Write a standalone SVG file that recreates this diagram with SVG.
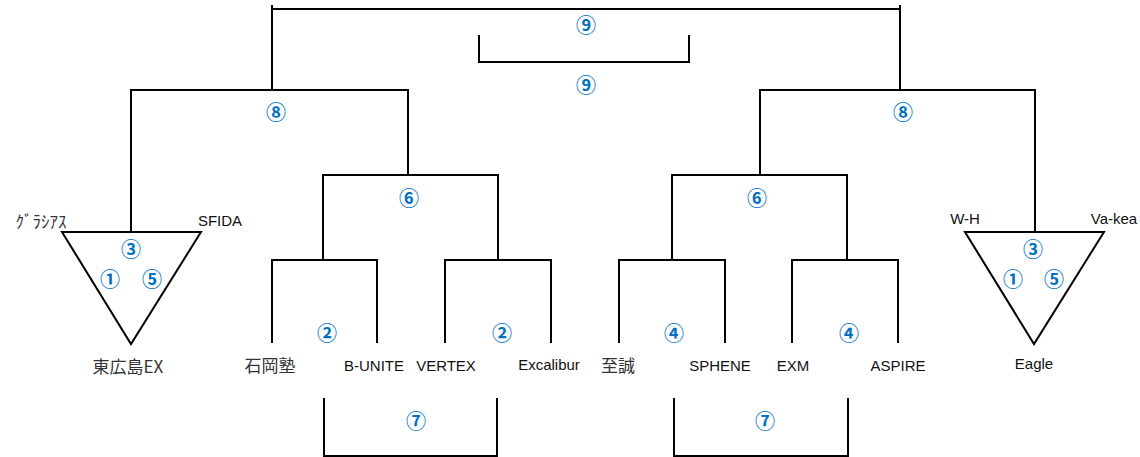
<svg xmlns="http://www.w3.org/2000/svg" width="1140" height="457" viewBox="0 0 1140 457">
<style>
.ln{fill:none;stroke:#000;stroke-width:2}
.t{font-family:"Liberation Sans","Noto Sans CJK JP",sans-serif;font-size:15px;fill:#111;text-anchor:middle}
.j{font-family:"Noto Sans CJK JP",sans-serif;font-size:17px;fill:#333;text-anchor:middle}
.n{font-family:"Noto Sans CJK JP","DejaVu Sans",sans-serif;font-size:20px;fill:#0070C0;text-anchor:middle;font-weight:bold}
</style>
<rect width="1140" height="457" fill="#fff"/>
<g id="connectors">
<path class="ln" d="M272,5 V90 M900,5 V90 M272,9 H900"/>
<path class="ln" d="M479,35 V62 H689 V35"/>
<path class="ln" d="M131,232 V90 H408 V175"/>
<path class="ln" d="M1035,232 V90 H760 V175"/>
<path class="ln" d="M323,260 V175 H498 V260"/>
<path class="ln" d="M672,260 V175 H847 V260"/>
<path class="ln" d="M272,343 V260 H377 V343"/>
<path class="ln" d="M445,343 V260 H551 V343"/>
<path class="ln" d="M619,343 V260 H725 V343"/>
<path class="ln" d="M792,343 V260 H898 V343"/>
<path class="ln" d="M324,398 V456 H497 V398"/>
<path class="ln" d="M674,398 V456 H848 V398"/>
</g>
<g id="group-left">
<path class="ln" d="M62,232 H201 L131,344 Z"/>
<text class="n" x="131" y="257">③</text>
<text class="n" x="110" y="287">①</text>
<text class="n" x="152" y="287">⑤</text>
</g>
<g id="group-right">
<path class="ln" d="M965,232 H1104 L1034,344 Z"/>
<text class="n" x="1033" y="257">③</text>
<text class="n" x="1013" y="287">①</text>
<text class="n" x="1054" y="287">⑤</text>
</g>
<g id="team-gracias"><text class="j" x="41" y="228" font-size="15">ｸﾞﾗｼｱｽ</text></g>
<g id="team-sfida"><text class="t" x="220" y="226">SFIDA</text></g>
<g id="team-higashihiroshima"><text class="j" x="128" y="373">東広島EX</text></g>
<g id="team-ishioka"><text class="j" x="270" y="372">石岡塾</text></g>
<g id="team-bunite"><text class="t" x="374" y="371">B-UNITE</text></g>
<g id="team-vertex"><text class="t" x="446" y="371">VERTEX</text></g>
<g id="team-excalibur"><text class="t" x="549" y="370">Excalibur</text></g>
<g id="team-shisei"><text class="j" x="618" y="372">至誠</text></g>
<g id="team-sphene"><text class="t" x="720" y="371">SPHENE</text></g>
<g id="team-exm"><text class="t" x="793" y="371">EXM</text></g>
<g id="team-aspire"><text class="t" x="898" y="371">ASPIRE</text></g>
<g id="team-wh"><text class="t" x="965" y="224">W-H</text></g>
<g id="team-vakea"><text class="t" x="1114" y="224">Va-kea</text></g>
<g id="team-eagle"><text class="t" x="1034" y="369">Eagle</text></g>
<g id="match-labels">
<text class="n" x="586" y="33">⑨</text>
<text class="n" x="586" y="93">⑨</text>
<text class="n" x="276" y="120">⑧</text>
<text class="n" x="903" y="120">⑧</text>
<text class="n" x="409" y="206">⑥</text>
<text class="n" x="757" y="206">⑥</text>
<text class="n" x="327" y="341">②</text>
<text class="n" x="502" y="341">②</text>
<text class="n" x="674" y="341">④</text>
<text class="n" x="849" y="341">④</text>
<text class="n" x="416" y="429">⑦</text>
<text class="n" x="765" y="429">⑦</text>
</g>
</svg>
